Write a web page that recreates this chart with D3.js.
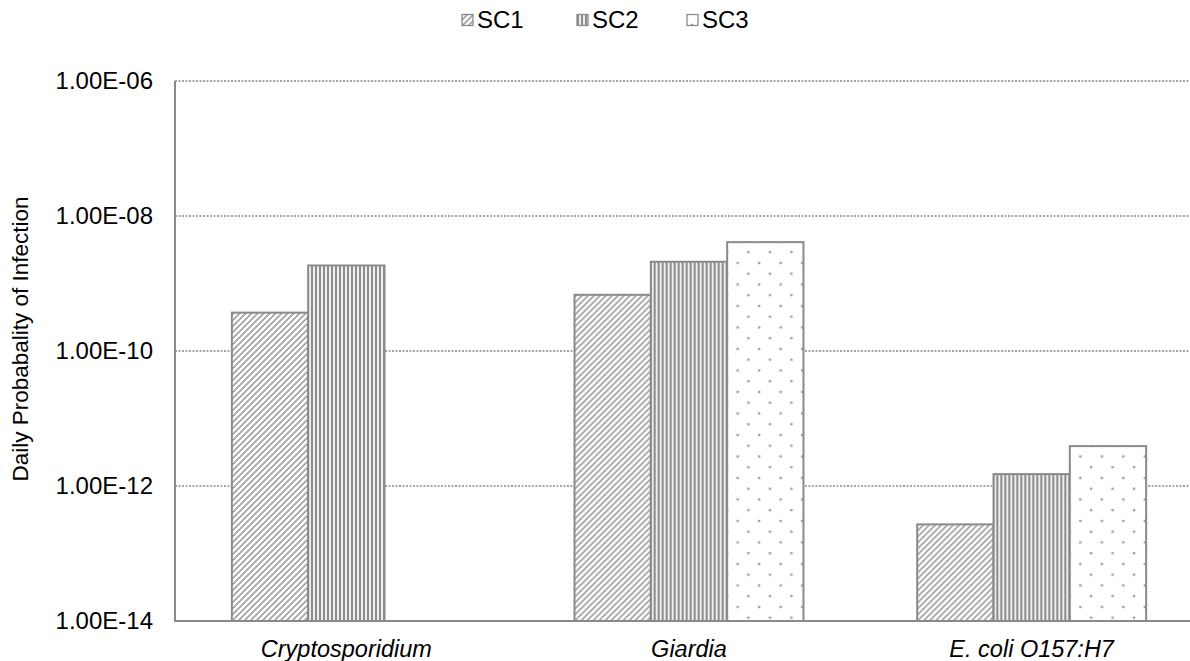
<!DOCTYPE html>
<html>
<head>
<meta charset="utf-8">
<script src="https://cdn.jsdelivr.net/npm/d3@7"></script>
<style>
  body { margin: 0; background: #fff; }
  text { font-family: Arial, "Liberation Sans", sans-serif; fill: #000; }
</style>
</head>
<body>
<div id="chart"></div>
<script>
// data
const categories = ['Cryptosporidium', 'Giardia', 'E. coli O157:H7'];
const series = ['SC1', 'SC2', 'SC3'];
const sc1 = [3.7e-10, 6.8e-10, 2.7e-13];
const sc2 = [1.85e-9, 2.1e-9, 1.5e-12];
const sc3 = [null, 4.1e-9, 3.9e-12];
const tickValues = [1e-6, 1e-8, 1e-10, 1e-12, 1e-14];
const tickLabels = ['1.00E-06', '1.00E-08', '1.00E-10', '1.00E-12', '1.00E-14'];

const W = 1190, H = 661;
const plotLeft = 175, plotRight = 1203, plotTop = 81, plotBottom = 621;

const svg = d3.select('#chart').append('svg')
  .attr('width', W).attr('height', H);

// fill patterns
const defs = svg.append('defs');
const pDiag = defs.append('pattern').attr('id', 'p-sc1')
  .attr('patternUnits', 'userSpaceOnUse').attr('width', 6).attr('height', 6);
pDiag.append('rect').attr('width', 6).attr('height', 6).attr('fill', '#fff');
pDiag.append('path').attr('d', 'M-1,1 l2,-2 M0,6 l6,-6 M5,7 l2,-2')
  .attr('stroke', '#a0a0a0').attr('stroke-width', 1.6);

const pVert = defs.append('pattern').attr('id', 'p-sc2')
  .attr('patternUnits', 'userSpaceOnUse').attr('width', 4).attr('height', 4);
pVert.append('rect').attr('width', 4).attr('height', 4).attr('fill', '#eeeeee');
pVert.append('rect').attr('x', 0).attr('width', 2).attr('height', 4).attr('fill', '#8c8c8c');

const pDot = defs.append('pattern').attr('id', 'p-sc3')
  .attr('patternUnits', 'userSpaceOnUse').attr('width', 21.5).attr('height', 21.5);
pDot.append('rect').attr('width', 21.5).attr('height', 21.5).attr('fill', '#fff');
pDot.append('circle').attr('cx', 5).attr('cy', 5).attr('r', 1.4).attr('fill', '#a0a0a0');
pDot.append('circle').attr('cx', 15.75).attr('cy', 15.75).attr('r', 1.4).attr('fill', '#a0a0a0');

const fills = { SC1: 'url(#p-sc1)', SC2: 'url(#p-sc2)', SC3: 'url(#p-sc3)' };

// scales
const y = d3.scaleLog().domain([1e-14, 1e-6]).range([plotBottom, plotTop]);
const x = d3.scaleBand().domain(categories).range([plotLeft, plotRight]).padding(0);
const xSub = d3.scaleBand().domain(series).range([0, x.bandwidth()])
  .paddingInner(0).paddingOuter(0.745);

// gridlines
svg.append('g')
  .selectAll('line')
  .data(tickValues.slice(0, 4))
  .join('line')
  .attr('x1', plotLeft).attr('x2', plotRight)
  .attr('y1', d => y(d)).attr('y2', d => y(d))
  .attr('stroke', '#8a8a8a')
  .attr('stroke-width', 1.3)
  .attr('stroke-dasharray', '2,1.5');

// y tick labels
svg.append('g')
  .selectAll('text')
  .data(tickValues)
  .join('text')
  .attr('x', 153)
  .attr('y', d => y(d))
  .attr('dy', '0.35em')
  .attr('text-anchor', 'end')
  .style('font-size', '24px')
  .text((d, i) => tickLabels[i]);

// bars
const rows = categories.map((c, i) => ({ cat: c, SC1: sc1[i], SC2: sc2[i], SC3: sc3[i] }));
svg.append('g')
  .selectAll('g')
  .data(rows)
  .join('g')
  .attr('transform', d => `translate(${x(d.cat)},0)`)
  .selectAll('rect')
  .data(d => series.filter(k => d[k] != null).map(k => ({ key: k, value: d[k] })))
  .join('rect')
  .attr('x', d => xSub(d.key))
  .attr('y', d => y(d.value))
  .attr('width', xSub.bandwidth())
  .attr('height', d => plotBottom - y(d.value))
  .attr('fill', d => fills[d.key])
  .attr('stroke', '#8a8a8a')
  .attr('stroke-width', 2);

// axes lines
svg.append('line').attr('x1', plotLeft).attr('x2', plotLeft).attr('y1', plotTop).attr('y2', plotBottom)
  .attr('stroke', '#8a8a8a').attr('stroke-width', 2);
svg.append('line').attr('x1', plotLeft - 1).attr('x2', plotRight).attr('y1', plotBottom).attr('y2', plotBottom)
  .attr('stroke', '#8a8a8a').attr('stroke-width', 2);

// category labels
svg.append('g')
  .selectAll('text')
  .data(categories)
  .join('text')
  .attr('x', d => x(d) + x.bandwidth() / 2)
  .attr('y', 657)
  .attr('text-anchor', 'middle')
  .style('font-size', '23.5px')
  .style('font-style', 'italic')
  .text(d => d);

// axis title
svg.append('text')
  .attr('transform', 'translate(28,339) rotate(-90)')
  .attr('text-anchor', 'middle')
  .style('font-size', '22.5px')
  .text('Daily Probabality of Infection');

// legend
const legendX = [462, 577, 687];
const legend = svg.append('g')
  .selectAll('g')
  .data(series)
  .join('g')
  .attr('transform', (d, i) => `translate(${legendX[i]},20)`);
legend.append('rect')
  .attr('x', 0).attr('y', -5.5).attr('width', 11).attr('height', 11)
  .attr('fill', d => fills[d])
  .attr('stroke', '#8a8a8a').attr('stroke-width', 1.3);
legend.append('text')
  .attr('x', 15).attr('y', 0).attr('dy', '0.35em')
  .style('font-size', '24px')
  .text(d => d);
</script>
</body>
</html>
